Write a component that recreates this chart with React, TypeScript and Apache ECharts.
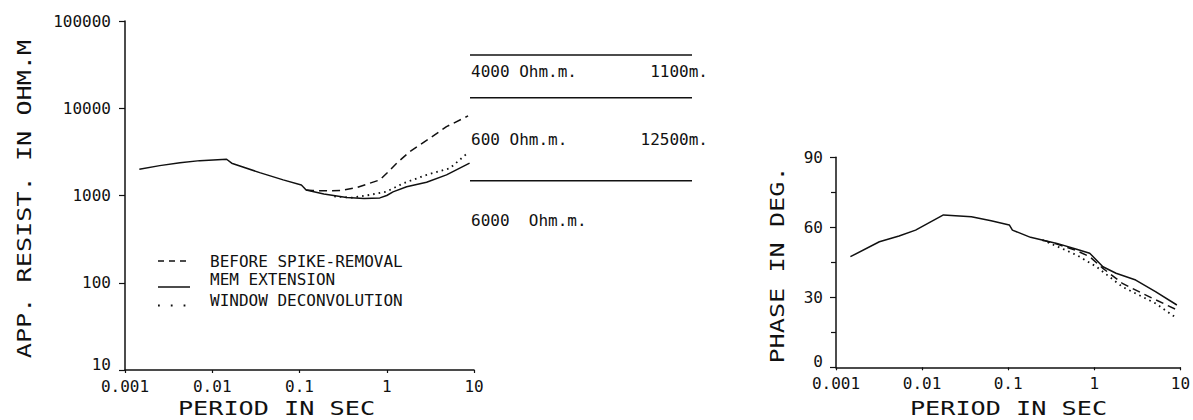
import React, { useEffect, useRef } from "react";
import * as echarts from "echarts";

// ---- data ----
const rhoSolidT = [0.00146, 0.0025, 0.00427, 0.0072, 0.0146, 0.0167, 0.035, 0.065, 0.105, 0.11, 0.119, 0.19, 0.347, 0.55, 0.834, 1.0, 1.18, 1.69, 2.86, 4.84, 8.9];
const rhoSolid = [2000, 2200, 2380, 2510, 2605, 2345, 1828, 1510, 1322, 1258, 1159, 1043, 946, 925, 939, 1000, 1100, 1258, 1419, 1722, 2345];
const rhoDashT = [0.119, 0.14, 0.2, 0.3, 0.45, 0.64, 0.834, 1.0, 1.3, 1.84, 3.12, 4.84, 8.55];
const rhoDash = [1159, 1140, 1130, 1140, 1230, 1384, 1510, 1800, 2345, 3187, 4530, 6150, 8170];
const rhoDotT = [0.25, 0.4, 0.64, 1.0, 1.56, 2.86, 5.3, 8.55];
const rhoDot = [975, 945, 1016, 1110, 1384, 1722, 2055, 3100];

const phSolidT = [0.00147, 0.00319, 0.0054, 0.0084, 0.0177, 0.0374, 0.0634, 0.103, 0.112, 0.182, 0.368, 0.624, 0.885, 1.26, 1.79, 3.03, 5.14, 9.11];
const phSolid = [47.4, 53.8, 56.3, 58.8, 65.3, 64.5, 62.8, 61.0, 58.8, 55.7, 53.1, 50.6, 48.9, 43.1, 40.3, 37.4, 32.4, 26.7];
const phDashT = [0.25, 0.368, 0.624, 0.885, 1.26, 2.12, 3.6, 9.11];
const phDash = [54.5, 52.8, 50.0, 47.4, 42.4, 36.0, 31.7, 24.6];
const phDotT = [0.25, 0.309, 0.624, 1.06, 2.12, 5.14, 9.11];
const phDot = [54.5, 53.1, 48.1, 43.1, 34.5, 27.4, 21.0];

const legendLabels = ["BEFORE SPIKE-REMOVAL", "MEM EXTENSION", "WINDOW DECONVOLUTION"];
const layerResist = ["4000 Ohm.m.", "600 Ohm.m.", "6000  Ohm.m."];
const layerThick = ["1100m.", "12500m."];

const FONT = "DejaVu Sans Mono";
const INK = "#111";

const zip = (xs: number[], ys: number[]) => xs.map((x, i) => [x, ys[i]]);
const fmt = (v: number) => String(Number(v.toPrecision(6)));

export default function App() {
  const ref = useRef<HTMLDivElement>(null);
  useEffect(() => {
    if (!ref.current) return;
    const chart = echarts.init(ref.current, undefined, { renderer: "svg" });

    const axisLine = { show: true, lineStyle: { color: INK, width: 1.5 } };
    const labelStyle = { color: INK, fontFamily: FONT, fontSize: 16 };

    const xAxisBase = (gridIndex: number) => ({
      type: "log" as const,
      logBase: 10,
      min: 0.001,
      max: 10,
      gridIndex,
      axisLine,
      axisTick: { show: true, length: 3, lineStyle: { color: INK, width: 1.2 } },
      axisLabel: { ...labelStyle, margin: 9, lineHeight: 14, formatter: fmt },
      splitLine: { show: false },
      minorTick: { show: false },
    });

    // the lowest y label sits a little above its tick, as in the reference
    const yFmt = (minV: number) => (v: number) =>
      Math.abs(v - minV) < 1e-9 ? `{lo|${fmt(v)}}` : fmt(v);
    const yRich = {
      lo: { color: INK, fontFamily: FONT, fontSize: 16, padding: [0, 0, 12, 0] },
    };

    const dashed = [8, 5];
    const dotted = [1.6, 4];

    const line = (data: number[][], idx: number, type: any, width = 1.5) => ({
      type: "line" as const,
      xAxisIndex: idx,
      yAxisIndex: idx,
      data,
      showSymbol: false,
      symbol: "none",
      lineStyle: { color: INK, width, type },
      silent: true,
    });

    const titleText = (text: string, x: number, y: number, rot = 0) => ({
      type: "text" as const,
      x,
      y,
      rotation: rot,
      scaleX: 1.26,
      style: {
        text,
        fill: INK,
        font: `20px "${FONT}"`,
        align: "center",
        verticalAlign: "middle",
      },
    });

    const plainText = (text: string, x: number, y: number, align = "left") => ({
      type: "text" as const,
      x,
      y,
      style: {
        text,
        fill: INK,
        font: `16px "${FONT}"`,
        align,
        verticalAlign: "middle",
      },
    });

    const hline = (x1: number, x2: number, y: number, lineDash?: number[], w = 1.5) => ({
      type: "line" as const,
      shape: { x1, y1: y, x2, y2: y },
      style: { stroke: INK, lineWidth: w, lineDash: lineDash || null },
    });

    chart.setOption({
      animation: false,
      backgroundColor: "#fff",
      grid: [
        { left: 125, top: 21, width: 349, height: 349 },
        { left: 836, top: 157.3, width: 349, height: 210 },
      ],
      xAxis: [xAxisBase(0), xAxisBase(1)],
      yAxis: [
        {
          type: "log",
          logBase: 10,
          min: 10,
          max: 100000,
          gridIndex: 0,
          axisLine,
          axisTick: { show: true, length: 6, lineStyle: { color: INK, width: 1.2 } },
          axisLabel: { ...labelStyle, margin: 14, lineHeight: 12, formatter: yFmt(10), rich: yRich },
          splitLine: { show: false },
        },
        {
          type: "value",
          min: 0,
          max: 90,
          interval: 30,
          gridIndex: 1,
          axisLine,
          axisTick: { show: true, length: 6, lineStyle: { color: INK, width: 1.2 } },
          minorTick: { show: true, splitNumber: 2, length: 5, lineStyle: { color: INK, width: 1.2 } },
          axisLabel: { ...labelStyle, margin: 13, lineHeight: 12, formatter: yFmt(0), rich: yRich },
          splitLine: { show: false },
        },
      ],
      series: [
        line(zip(rhoSolidT, rhoSolid), 0, "solid"),
        line(zip(rhoDashT, rhoDash), 0, dashed),
        line(zip(rhoDotT, rhoDot), 0, dotted, 1.8),
        line(zip(phSolidT, phSolid), 1, "solid"),
        line(zip(phDashT, phDash), 1, dashed),
        line(zip(phDotT, phDot), 1, dotted, 1.8),
      ],
      graphic: [
        // axis titles
        titleText("APP. RESIST. IN OHM.M", 24, 199, Math.PI / 2),
        titleText("PERIOD IN SEC", 276.5, 408),
        titleText("PHASE IN DEG.", 777, 265, Math.PI / 2),
        titleText("PERIOD IN SEC", 1008.5, 408),
        // legend
        hline(158, 190, 261, [6, 5]),
        plainText(legendLabels[0], 210, 261),
        hline(158, 190, 287),
        plainText(legendLabels[1], 210, 279),
        hline(158, 190, 305.5, [1.8, 11], 1.8),
        plainText(legendLabels[2], 210, 300),
        // layered model
        hline(470, 692, 55),
        hline(470, 692, 97.7),
        hline(470, 692, 180.7),
        plainText(layerResist[0], 471, 71),
        plainText(layerThick[0], 708, 71, "right"),
        plainText(layerResist[1], 471, 139),
        plainText(layerThick[1], 708, 139, "right"),
        plainText(layerResist[2], 471, 220),
      ],
    });

    return () => chart.dispose();
  }, []);

  return (
    <div
      ref={ref}
      style={{ position: "absolute", left: 0, top: 0, width: 1193, height: 420, background: "#fff" }}
    />
  );
}
